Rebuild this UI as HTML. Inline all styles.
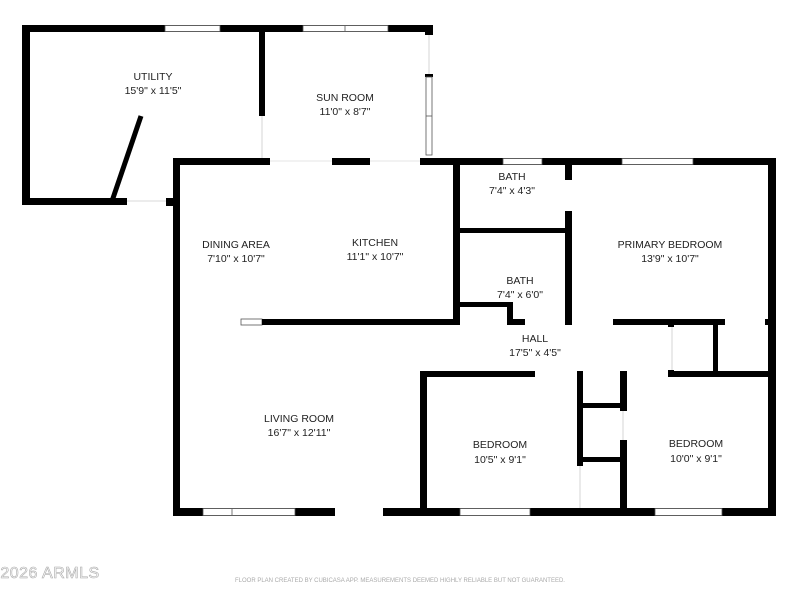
<!DOCTYPE html>
<html><head><meta charset="utf-8"><style>
html,body{margin:0;padding:0;background:#fff;width:800px;height:600px;overflow:hidden}
svg{display:block}
text{font-family:"Liberation Sans",sans-serif;font-size:10.5px;fill:#222;text-anchor:middle}
.w{fill:#000}
.win{fill:#fff;stroke:#555;stroke-width:0.8}
</style></head><body>
<svg width="800" height="600" viewBox="0 0 800 600">
<rect class="w" x="22" y="25" width="411" height="7"/>
<rect class="win" x="165" y="25.5" width="55" height="6"/>
<rect class="win" x="303" y="25.5" width="85" height="6"/>
<line x1="345" y1="26" x2="345" y2="31" stroke="#555" stroke-width="0.8"/>
<rect class="w" x="22" y="25" width="8" height="180"/>
<rect class="w" x="22" y="198" width="105" height="7"/>
<rect class="w" x="166" y="198" width="9" height="7"/>
<line x1="127" y1="201" x2="166" y2="201" stroke="#ccc" stroke-width="0.8"/>
<line x1="141" y1="116" x2="111" y2="204" stroke="#000" stroke-width="5"/>
<rect class="w" x="259" y="32" width="6" height="84"/>
<line x1="262" y1="116" x2="262" y2="158" stroke="#ccc" stroke-width="0.8"/>
<rect class="w" x="425" y="25" width="8" height="10"/>
<line x1="429" y1="35" x2="429" y2="75" stroke="#ccc" stroke-width="0.8"/>
<rect class="w" x="425" y="74" width="8" height="3"/>
<rect class="win" x="426" y="77" width="6" height="78"/>
<line x1="426" y1="116" x2="432" y2="116" stroke="#555" stroke-width="0.8"/>
<rect class="w" x="173" y="158" width="97" height="7"/>
<rect class="w" x="332" y="158" width="38" height="7"/>
<rect class="w" x="420" y="158" width="356" height="7"/>
<line x1="270" y1="161" x2="332" y2="161" stroke="#ddd" stroke-width="0.8"/>
<line x1="370" y1="161" x2="420" y2="161" stroke="#ddd" stroke-width="0.8"/>
<rect class="win" x="503" y="158.5" width="39" height="6"/>
<rect class="win" x="622" y="158.5" width="71" height="6"/>
<rect class="w" x="173" y="158" width="7" height="358"/>
<rect class="w" x="166" y="198" width="9" height="8"/>
<rect class="w" x="768" y="158" width="8" height="358"/>
<rect class="w" x="173" y="508" width="603" height="8"/>
<rect class="win" x="203" y="508.5" width="92" height="7"/>
<line x1="232" y1="509" x2="232" y2="515" stroke="#555" stroke-width="0.8"/>
<rect x="335" y="508" width="48" height="8" fill="#fff"/>
<rect class="win" x="460" y="508.5" width="70" height="7"/>
<rect class="win" x="655" y="508.5" width="67" height="7"/>
<rect class="w" x="453" y="158" width="7" height="167"/>
<rect class="win" x="241" y="319" width="21" height="6"/>
<rect class="w" x="262" y="319" width="198" height="6"/>
<rect class="w" x="455" y="228" width="113" height="5"/>
<rect class="w" x="565" y="158" width="7" height="22"/>
<rect class="w" x="565" y="211" width="7" height="114"/>
<rect class="w" x="458" y="302" width="54" height="5"/>
<rect class="w" x="507" y="302" width="6" height="23"/>
<rect class="w" x="507" y="319" width="18" height="6"/>
<rect class="w" x="613" y="319" width="112" height="6"/>
<rect class="w" x="765" y="319" width="11" height="6"/>
<rect class="w" x="713" y="319" width="5" height="58"/>
<rect class="w" x="668" y="319" width="6" height="8"/>
<rect class="w" x="668" y="370" width="6" height="7"/>
<line x1="672" y1="327" x2="672" y2="370" stroke="#ccc" stroke-width="0.8"/>
<rect class="w" x="420" y="371" width="115" height="6"/>
<rect class="w" x="577" y="371" width="6" height="6"/>
<rect class="w" x="620" y="371" width="7" height="6"/>
<rect class="w" x="668" y="371" width="108" height="6"/>
<rect class="w" x="420" y="371" width="7" height="145"/>
<rect class="w" x="577" y="371" width="6" height="95"/>
<rect class="w" x="620" y="371" width="7" height="40"/>
<rect class="w" x="620" y="440" width="7" height="70"/>
<rect class="w" x="580" y="403" width="45" height="5"/>
<rect class="w" x="580" y="457" width="45" height="5"/>
<line x1="580" y1="466" x2="580" y2="508" stroke="#ccc" stroke-width="0.8"/>
<line x1="623" y1="411" x2="623" y2="440" stroke="#ccc" stroke-width="0.8"/>
<text x="153" y="80">UTILITY</text><text x="153" y="94">15'9" x 11'5"</text>
<text x="345" y="101">SUN ROOM</text><text x="345" y="115">11'0" x 8'7"</text>
<text x="512" y="180">BATH</text><text x="512" y="194">7'4" x 4'3"</text>
<text x="236" y="248">DINING AREA</text><text x="236" y="262">7'10" x 10'7"</text>
<text x="375" y="246">KITCHEN</text><text x="375" y="260">11'1" x 10'7"</text>
<text x="520" y="284">BATH</text><text x="520" y="298">7'4" x 6'0"</text>
<text x="670" y="248">PRIMARY BEDROOM</text><text x="670" y="262">13'9" x 10'7"</text>
<text x="535" y="342">HALL</text><text x="535" y="356">17'5" x 4'5"</text>
<text x="299" y="422">LIVING ROOM</text><text x="299" y="436">16'7" x 12'11"</text>
<text x="500" y="448">BEDROOM</text><text x="500" y="463">10'5" x 9'1"</text>
<text x="696" y="447">BEDROOM</text><text x="696" y="462">10'0" x 9'1"</text>
<text x="50" y="578" style="font-size:16px;fill:#fff;stroke:#aaa;stroke-width:0.6;letter-spacing:0.5px">2026 ARMLS</text>
<text x="400" y="582" style="font-size:6px;fill:#aaa">FLOOR PLAN CREATED BY CUBICASA APP. MEASUREMENTS DEEMED HIGHLY RELIABLE BUT NOT GUARANTEED.</text>
</svg>
</body></html>
